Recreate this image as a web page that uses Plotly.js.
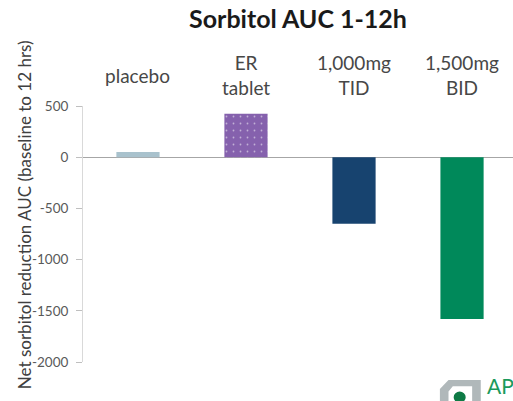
<!DOCTYPE html>
<html>
<head>
<meta charset="utf-8">
<script src="https://cdn.plot.ly/plotly-3.0.1.min.js"></script>
<style>
  html, body { margin: 0; padding: 0; background: #ffffff; }
  #chart { width: 513px; height: 401px; }
</style>
</head>
<body>
<div id="chart"></div>
<script>
// Net sorbitol reduction AUC, baseline to 12 hrs, per arm
const categories = ['placebo', 'ER tablet', '1,000mg TID', '1,500mg BID'];
const categoryLabels = ['placebo', 'ER<br>tablet', '1,000mg<br>TID', '1,500mg<br>BID'];
const aucValues = [50, 425, -650, -1580];
const barColors = ['#a9c2cd', '#8561ad', '#17436f', '#00895a'];
const yTicks = [500, 0, -500, -1000, -1500, -2000];

const FONT = 'Lato, "Open Sans", "Noto Sans", sans-serif';

const trace = {
  type: 'bar',
  x: categories,
  y: aucValues,
  marker: {
    color: barColors,
    line: { width: 0 },
    // only the ER tablet bar carries a speckled fill over its colour
    pattern: {
      shape: ['', '.', '', ''],
      fgcolor: '#a995c9',
      fillmode: 'overlay',
      size: 7,
      solidity: 0.05
    }
  },
  hoverinfo: 'skip'
};

// category names sit above the plot area
const catAnnotations = categories.map((c, i) => ({
  x: c, xref: 'x',
  y: 1.121, yref: 'paper',
  text: categoryLabels[i],
  showarrow: false,
  xanchor: 'center', yanchor: 'middle',
  align: 'center',
  font: { family: FONT, size: 19, color: '#474747' }
}));

const layout = {
  width: 513,
  height: 401,
  margin: { l: 83, r: 0, t: 106, b: 39, pad: 0 },
  paper_bgcolor: '#ffffff',
  plot_bgcolor: '#ffffff',
  showlegend: false,
  bargap: 0.6,
  title: {
    text: '<b>Sorbitol AUC 1-12h</b>',
    x: 0.5, xref: 'paper', xanchor: 'center',
    y: 1 - 19 / 401, yref: 'container', yanchor: 'middle',
    font: { family: FONT, size: 25, color: '#1a1a1a' }
  },
  xaxis: {
    type: 'category',
    range: [-0.509, 3.472],
    showticklabels: false,
    showgrid: false,
    showline: false,
    zeroline: false,
    ticks: '',
    fixedrange: true
  },
  yaxis: {
    range: [-2000, 500],
    tickvals: yTicks,
    ticktext: yTicks.map(String),
    ticks: 'outside',
    ticklen: 6,
    tickwidth: 1,
    tickcolor: '#bfbfbf',
    ticklabelstandoff: 5,
    showline: true,
    linecolor: '#d9d9d9',
    linewidth: 1,
    showgrid: false,
    zeroline: true,
    zerolinecolor: '#a6a6a6',
    zerolinewidth: 1,
    tickfont: { family: FONT, size: 13.5, color: '#595959' },
    fixedrange: true
  },
  annotations: catAnnotations.concat([
    {
      text: 'Net sorbitol reduction AUC (baseline to 12 hrs)',
      xref: 'paper', yref: 'paper',
      x: -0.137, y: 0.574,
      xanchor: 'center', yanchor: 'middle',
      textangle: -90,
      showarrow: false,
      font: { family: FONT, size: 17, color: '#404040' }
    },
    {
      text: 'AP',
      xref: 'paper', yref: 'paper',
      x: 0.935, y: -0.09,
      xanchor: 'left', yanchor: 'middle',
      showarrow: false,
      font: { family: FONT, size: 21, color: '#1b9a5c' }
    }
  ]),
  shapes: [
    // corner emblem beside the "AP" mark
    {
      type: 'path', xref: 'paper', yref: 'paper',
      path: 'M 0.83 -0.16 L 0.83 -0.105 L 0.85 -0.07 L 0.925 -0.07 L 0.925 -0.16 L 0.905 -0.16 L 0.905 -0.095 L 0.86 -0.095 L 0.85 -0.115 L 0.85 -0.16 Z',
      fillcolor: '#b0b8ba', line: { width: 0 }
    },
    {
      type: 'circle', xref: 'paper', yref: 'paper',
      x0: 0.862, x1: 0.89, y0: -0.16, y1: -0.115,
      fillcolor: '#0e7a45', line: { width: 0 }
    }
  ]
};

Plotly.newPlot('chart', [trace], layout, { displayModeBar: false, staticPlot: true });
</script>
</body>
</html>
